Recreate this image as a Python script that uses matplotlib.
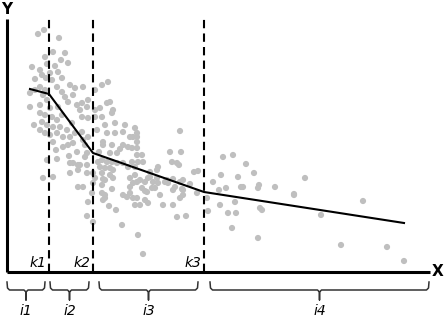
import numpy as np
import matplotlib
matplotlib.use('Agg')
import matplotlib.pyplot as plt

# scatter points (schematic units: x from left edge, y height above the X axis)
pts_x = [38, 44, 59, 53, 65, 61, 68, 32, 45, 47, 55, 42, 50, 58, 62, 46, 35, 40, 52,
         35, 40, 45, 57, 62, 70, 75, 73, 65, 68, 77, 30, 40, 47, 50, 58, 40, 45, 52, 57,
         62, 42, 47, 53, 60, 67, 72, 45, 50, 57, 63, 70, 75, 40, 30, 43, 34,
         53, 63, 68, 73, 56, 69, 77, 47, 57, 70, 73, 78, 70, 78, 43, 53, 78,
         83, 95, 102, 108, 82, 88, 107, 110, 80, 87, 95, 100, 113, 112, 102, 82, 88, 95,
         105, 115, 125, 135, 97, 107, 115, 123, 130, 133, 137, 137, 103, 103, 112, 123,
         128, 132, 117, 120, 99, 110, 87, 85, 83, 88, 82, 85, 80, 87, 98, 102, 107, 112,
         117, 100, 105, 110, 113, 123, 132, 138, 128, 135, 87, 93, 102, 95, 103, 110, 113,
         83, 93, 102, 105, 133, 137, 130, 92, 102, 105, 112, 123, 127, 130, 133, 137, 88,
         105, 103, 109, 116, 87, 93, 122, 138,
         180, 170, 181, 172, 177, 179, 194, 198, 223, 233, 246, 254, 238, 221, 213, 207,
         226, 219, 241, 243, 258, 259, 275, 294, 220, 235, 228, 236, 260, 262, 208, 186,
         197, 183, 173, 182, 165, 158, 173, 180, 163, 173, 180, 183, 160, 147, 145, 137,
         137, 137, 143, 135, 130, 140, 145, 150, 157, 158, 150, 157, 142, 152, 145, 135,
         140, 148, 177, 142, 148, 153, 167, 168, 175, 183, 190, 155,
         232, 258, 143, 305, 294, 363, 321, 341, 387, 404]
pts_y = [238, 242, 234, 220, 219, 212, 209, 205, 215, 208, 206, 197, 199, 200, 194, 194, 193, 202, 192,
         182, 185, 182, 185, 180, 187, 184, 177, 175, 170, 167, 165, 167, 172, 164, 165, 159, 157, 155, 152,
         157, 150, 147, 145, 145, 142, 149, 139, 137, 139, 135, 135, 139, 142, 179, 177, 147,
         130, 125, 127, 129, 122, 116, 120, 112, 113, 109, 109, 107, 99, 102, 94, 95, 85,
         185, 182, 187, 190, 169, 172, 169, 170, 162, 165, 162, 164, 162, 159, 155, 155, 154, 155,
         147, 149, 147, 144, 142, 139, 139, 140, 135, 135, 135, 130, 130, 127, 127, 127,
         125, 124, 119, 123, 120, 119, 119, 127, 132, 135, 140, 115, 107, 107, 110, 112, 110, 110,
         109, 105, 104, 104, 102, 109, 110, 110, 105, 105, 99, 99, 99, 94, 93, 97, 94,
         85, 89, 87, 92, 89, 90, 85, 79, 79, 77, 83, 77, 75, 79, 74, 74, 70,
         74, 72, 66, 62, 56, 50, 47, 37,
         141, 120, 120, 110, 109, 107, 100, 101, 115, 117, 108, 99, 95, 97, 90, 74,
         84, 82, 85, 85, 84, 87, 85, 77, 67, 70, 59, 59, 64, 62, 61, 56,
         79, 82, 82, 83, 90, 89, 93, 90, 67, 67, 74, 77, 77, 80, 81, 139,
         124, 117, 110, 97, 94, 92, 90, 100, 102, 105, 95, 94, 84, 84, 72, 67,
         67, 69, 55, 117, 94, 90, 92, 89, 85, 92, 88, 84,
         44, 34, 18, 94, 78, 71, 57, 27, 25, 11]

# piecewise fitted line
fit_x = [30, 49, 93, 204, 404]
fit_y = [183, 178, 119, 80, 49]

# knots and intervals
knots = [49, 93, 204]
knot_labels = ['k1', 'k2', 'k3']
intervals = [(7, 45), (50, 89), (99, 198), (210, 429)]
interval_labels = ['i1', 'i2', 'i3', 'i4']

fig = plt.figure(figsize=(4.47, 3.2), dpi=100)
ax = fig.add_axes([0, 0, 1, 1])
ax.set_xlim(0, 447)
ax.set_ylim(-48, 272)
ax.axis('off')

ax.scatter(pts_x, pts_y, s=20, color='#bfbfbf', edgecolors='none', zorder=1)

# axes
ax.plot([7, 7], [0, 253], color='black', lw=2.2, solid_capstyle='butt', zorder=3)
ax.plot([7, 430], [0, 0], color='black', lw=2.2, solid_capstyle='butt', zorder=3)
ax.text(7, 263, 'Y', fontsize=11, fontweight='bold', ha='center', va='center')
ax.text(438, 0, 'X', fontsize=11, fontweight='bold', ha='center', va='center')

for k, lab in zip(knots, knot_labels):
    ax.plot([k, k], [0, 254], color='black', lw=1.5, ls=(0, (4, 2.5)), zorder=2)
    ax.text(k - 3, 9, lab, fontsize=10, style='italic', ha='right', va='center')

ax.plot(fit_x, fit_y, color='black', lw=1.5, zorder=4)

# braces under the axis
for (a, b), lab in zip(intervals, interval_labels):
    c = (a + b) / 2
    bx = [a, a + 0.5, a + 2.5, c - 2, c, c, c, c + 2, b - 2.5, b - 0.5, b]
    by = [-10, -16, -18, -18, -20, -28, -20, -18, -18, -16, -10]
    ax.plot(bx, by, color='#333333', lw=1.1)
    ax.text(c, -39, lab, fontsize=10, style='italic', ha='center', va='center')

fig.savefig('out.png', dpi=100)
